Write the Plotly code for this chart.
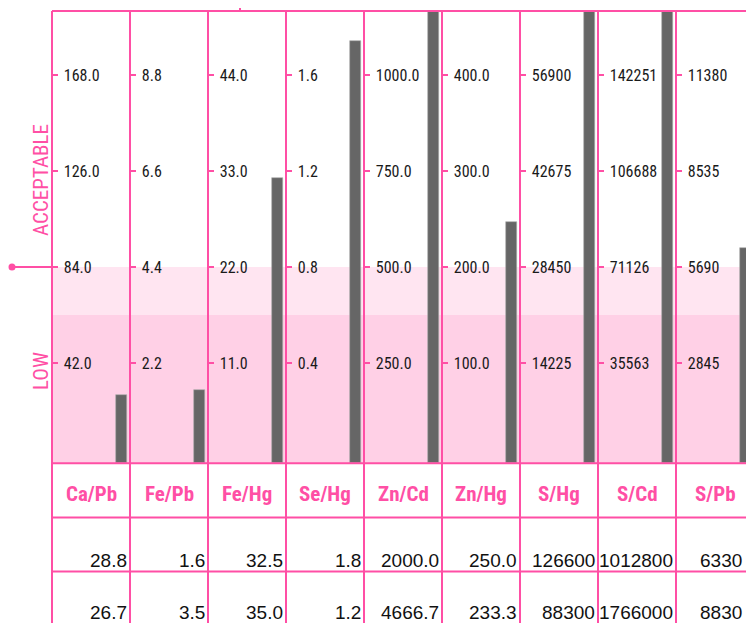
import plotly.graph_objects as go

# the page places the figure 8 px in from the top-left corner
OFF = 8
W, H = 746, 615
PINK = "#ff4fa5"
NARROW = "Roboto Condensed, Liberation Sans, Arial, sans-serif"
REG = "Liberation Sans, Arial, sans-serif"

ratios = ["Ca/Pb", "Fe/Pb", "Fe/Hg", "Se/Hg", "Zn/Cd", "Zn/Hg", "S/Hg", "S/Cd", "S/Pb"]
tick_values = [
    [42, 84, 126, 168],
    [2.2, 4.4, 6.6, 8.8],
    [11, 22, 33, 44],
    [0.4, 0.8, 1.2, 1.6],
    [250, 500, 750, 1000],
    [100, 200, 300, 400],
    [14225, 28450, 42675, 56900],
    [35563, 71126, 106688, 142251],
    [2845, 5690, 8535, 11380],
]
tick_labels = [
    ["42.0", "84.0", "126.0", "168.0"],
    ["2.2", "4.4", "6.6", "8.8"],
    ["11.0", "22.0", "33.0", "44.0"],
    ["0.4", "0.8", "1.2", "1.6"],
    ["250.0", "500.0", "750.0", "1000.0"],
    ["100.0", "200.0", "300.0", "400.0"],
    ["14225", "28450", "42675", "56900"],
    ["35563", "71126", "106688", "142251"],
    ["2845", "5690", "8535", "11380"],
]
bar_values = [28.2, 1.58, 32.2, 1.74, 2000.0, 247.0, 126600, 1012800, 6250]
row1 = ["28.8", "1.6", "32.5", "1.8", "2000.0", "250.0", "126600", "1012800", "6330"]
row2 = ["26.7", "3.5", "35.0", "1.2", "4666.7", "233.3", "88300", "1766000", "8830"]


def px_x(p):
    return min(1.0, max(0.0, (p - OFF) / W))


def px_y(p):
    return min(1.0, max(0.0, 1 - (p - OFF) / H))


LEFT, COLW = 52, 78
TOP, BOTTOM, ZERO, STEP_PX = 11, 463.3, 459.0, 96.0
VISIBLE_RIGHT = 746  # the page shows nothing right of this

fig = go.Figure()
layout = {}
for i, name in enumerate(ratios):
    n = "" if i == 0 else str(i + 1)
    step = tick_values[i][1] - tick_values[i][0]
    lo = -(BOTTOM - ZERO) / STEP_PX * step
    hi = (ZERO - TOP) / STEP_PX * step
    fig.add_trace(go.Bar(
        x=[0.89], y=[bar_values[i] - lo], base=[lo], width=[0.145],
        xaxis="x" + n, yaxis="y" + n,
        marker=dict(color="#666666", line=dict(color="#aaaaaa", width=0.6)),
        showlegend=False, hoverinfo="skip",
    ))
    layout["xaxis" + n] = dict(
        domain=[px_x(LEFT + COLW * i), px_x(LEFT + COLW * (i + 1))],
        range=[0, 1], visible=False, anchor="y" + n, fixedrange=True,
    )
    layout["yaxis" + n] = dict(
        domain=[px_y(BOTTOM), px_y(TOP)], range=[lo, hi], anchor="x" + n,
        tickvals=tick_values[i], ticktext=tick_labels[i],
        ticks="inside", ticklen=6, tickwidth=2, tickcolor=PINK,
        ticklabelposition="inside", ticklabelstandoff=6,
        tickfont=dict(family=NARROW, size=16, color="#1a1a1a"),
        showgrid=False, zeroline=False, showline=False, fixedrange=True,
    )

shapes = []
T0 = tick_values[0][1]
lo0 = -(BOTTOM - ZERO) / STEP_PX * (tick_values[0][1] - tick_values[0][0])
# bands
shapes.append(dict(type="rect", xref="paper", yref="y", x0=px_x(LEFT), x1=1,
                   y0=lo0, y1=0.75 * T0, fillcolor="#ffd0e6", line_width=0, layer="below"))
shapes.append(dict(type="rect", xref="paper", yref="y", x0=px_x(LEFT), x1=1,
                   y0=0.75 * T0, y1=T0, fillcolor="#ffe5f1", line_width=0, layer="below"))
# threshold marker
shapes.append(dict(type="line", xref="paper", yref="y", x0=px_x(12), x1=px_x(LEFT),
                   y0=T0, y1=T0, line=dict(color=PINK, width=2)))
shapes.append(dict(type="circle", xref="paper", yref="y", xsizemode="pixel", ysizemode="pixel",
                   xanchor=px_x(12), yanchor=T0, x0=-3.5, x1=3.5, y0=-3.5, y1=3.5,
                   fillcolor=PINK, line_width=0))
# top border and connector
shapes.append(dict(type="line", xref="paper", yref="paper", x0=px_x(LEFT), x1=1,
                   y0=px_y(TOP), y1=px_y(TOP), line=dict(color=PINK, width=2)))
shapes.append(dict(type="line", xref="paper", yref="paper", x0=px_x(240), x1=px_x(240),
                   y0=1, y1=px_y(TOP), line=dict(color=PINK, width=2)))
# column borders
for i in range(len(ratios) + 1):
    xx = min(px_x(LEFT + COLW * i), 1 - 1 / W)
    shapes.append(dict(type="line", xref="paper", yref="paper", x0=xx, x1=xx,
                       y0=0, y1=px_y(TOP), line=dict(color=PINK, width=2)))
# table horizontal lines
for yy in [BOTTOM, 517.5, 571.5]:
    shapes.append(dict(type="line", xref="paper", yref="paper", x0=px_x(LEFT), x1=1,
                       y0=px_y(yy), y1=px_y(yy), line=dict(color=PINK, width=2)))

annotations = []
for i, name in enumerate(ratios):
    n = "" if i == 0 else str(i + 1)
    right_edge = LEFT + COLW * (i + 1)
    shift = -1 - max(0, right_edge - VISIBLE_RIGHT + 1)
    annotations.append(dict(text="<b>%s</b>" % name, xref="x" + n, yref="paper", x=0.5,
                            y=px_y(494), xanchor="center", yanchor="middle", showarrow=False,
                            font=dict(family=NARROW, size=21, color=PINK)))
    annotations.append(dict(text=row1[i], xref="x" + n, yref="paper", x=1, xshift=shift,
                            y=px_y(560), xanchor="right", yanchor="middle", showarrow=False,
                            font=dict(family=REG, size=19, color="#111111")))
    annotations.append(dict(text=row2[i], xref="x" + n, yref="paper", x=1, xshift=shift,
                            y=px_y(612), xanchor="right", yanchor="middle", showarrow=False,
                            font=dict(family=REG, size=19, color="#111111")))
annotations.append(dict(text="ACCEPTABLE", xref="paper", yref="paper", x=px_x(41), y=px_y(180),
                        textangle=-90, showarrow=False, xanchor="center", yanchor="middle",
                        font=dict(family=NARROW, size=21, color=PINK)))
annotations.append(dict(text="LOW", xref="paper", yref="paper", x=px_x(41), y=px_y(371),
                        textangle=-90, showarrow=False, xanchor="center", yanchor="middle",
                        font=dict(family=NARROW, size=21, color=PINK)))

fig.update_layout(
    width=W, height=H, margin=dict(l=0, r=0, t=0, b=0, pad=0),
    paper_bgcolor="white", plot_bgcolor="rgba(0,0,0,0)",
    shapes=shapes, annotations=annotations, bargap=0, showlegend=False,
    **layout,
)
fig.write_html("out.html")
